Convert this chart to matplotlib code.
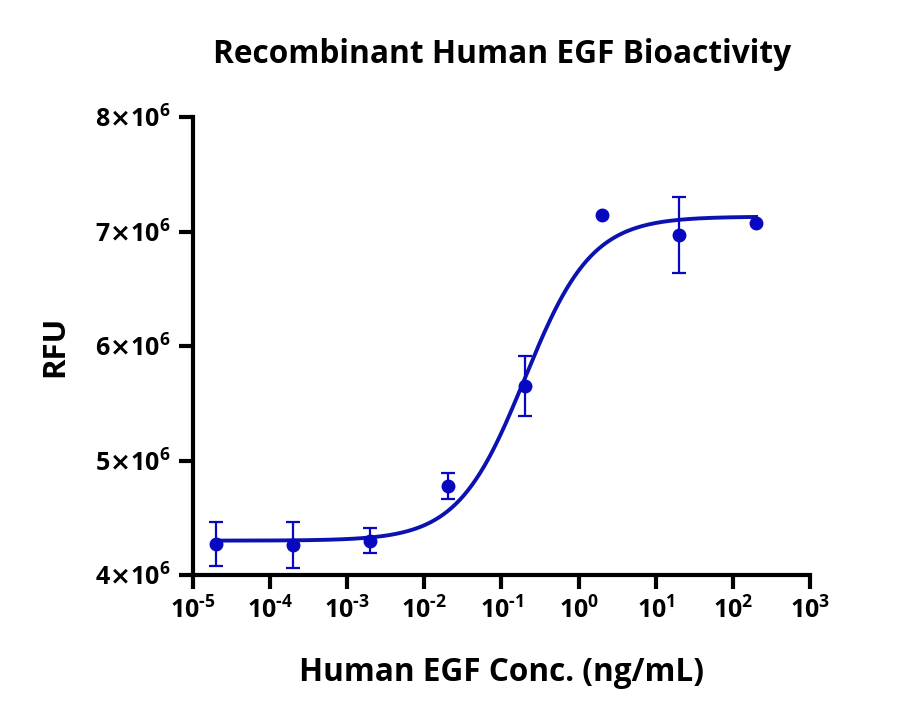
import numpy as np
import matplotlib
matplotlib.use("Agg")
import matplotlib.pyplot as plt
from matplotlib.ticker import FixedLocator, FixedFormatter

plt.rcParams['font.family'] = ['Open Sans', 'DejaVu Sans']
plt.rcParams['font.weight'] = 'bold'
plt.rcParams['mathtext.fontset'] = 'custom'
plt.rcParams['mathtext.rm'] = 'Open Sans:bold'
plt.rcParams['mathtext.bf'] = 'Open Sans:bold'
plt.rcParams['mathtext.it'] = 'Open Sans:bold'
plt.rcParams['mathtext.sf'] = 'DejaVu Sans:bold'
plt.rcParams['mathtext.default'] = 'regular'

# Data
conc = [2e-5, 2e-4, 2e-3, 2e-2, 2e-1, 2.0, 20.0, 200.0]
rfu = [4.27e6, 4.26e6, 4.30e6, 4.78e6, 5.65e6, 7.14e6, 6.97e6, 7.07e6]
err = [0.195e6, 0.20e6, 0.11e6, 0.115e6, 0.265e6, 0.0, 0.33e6, 0.0]

# 4PL fit parameters
fit_bottom = 4.30e6
fit_top = 7.13e6
fit_ec50 = 0.20
fit_hill = 1.0

x_ticks = [1e-5, 1e-4, 1e-3, 1e-2, 1e-1, 1e0, 1e1, 1e2, 1e3]
x_ticklabels = [r'$10^{\text{-5}}$', r'$10^{\text{-4}}$', r'$10^{\text{-3}}$',
                r'$10^{\text{-2}}$', r'$10^{\text{-1}}$',
                r'$10^{0}$', r'$10^{1}$', r'$10^{2}$', r'$10^{3}$']
y_ticks = [4e6, 5e6, 6e6, 7e6, 8e6]
y_ticklabels = [r'$4\mathsf{×}10^{6}$', r'$5\mathsf{×}10^{6}$', r'$6\mathsf{×}10^{6}$',
                r'$7\mathsf{×}10^{6}$', r'$8\mathsf{×}10^{6}$']

line_color = '#0c12b0'
pt_color = '#0808c0'

fig = plt.figure(figsize=(9, 7.21), dpi=100)
ax = fig.add_axes([0.2144, 0.2025, 0.6856, 0.6352])

xs = np.logspace(np.log10(2e-5), np.log10(200), 400)
ys = fit_bottom + (fit_top - fit_bottom) / (1 + (fit_ec50 / xs) ** fit_hill)
ax.plot(xs, ys, color=line_color, lw=2.8, zorder=2)

ax.plot(conc, rfu, 'o', color=pt_color, ms=9, zorder=3)
eb_x = [c for c, e in zip(conc, err) if e > 0]
eb_y = [r for r, e in zip(rfu, err) if e > 0]
eb_e = [e for e in err if e > 0]
ax.errorbar(eb_x, eb_y, yerr=eb_e, fmt='none', ecolor=pt_color,
            elinewidth=1.6, capsize=4.7, capthick=1.6, zorder=3)

ax.set_xscale('log')
ax.set_xlim(1e-5, 1e3)
ax.set_ylim(4e6, 8e6)
ax.xaxis.set_major_locator(FixedLocator(x_ticks))
ax.xaxis.set_major_formatter(FixedFormatter(x_ticklabels))
ax.xaxis.set_minor_locator(FixedLocator([]))
ax.yaxis.set_major_locator(FixedLocator(y_ticks))
ax.yaxis.set_major_formatter(FixedFormatter(y_ticklabels))

for s in ['top', 'right']:
    ax.spines[s].set_visible(False)
for s in ['left', 'bottom']:
    ax.spines[s].set_linewidth(3)
ax.tick_params(axis='both', width=3, length=10, labelsize=18, pad=6)

ax.set_xlabel('Human EGF Conc. (ng/mL)', fontsize=22.7, fontweight='bold', labelpad=23)
ax.set_ylabel('RFU', fontsize=22.5, fontweight='bold', labelpad=18)
fig.text(0.558, 0.925, 'Recombinant Human EGF Bioactivity', fontsize=22.8,
         fontweight='bold', ha='center', va='center')

fig.savefig('out.png', dpi=100, facecolor='white')
